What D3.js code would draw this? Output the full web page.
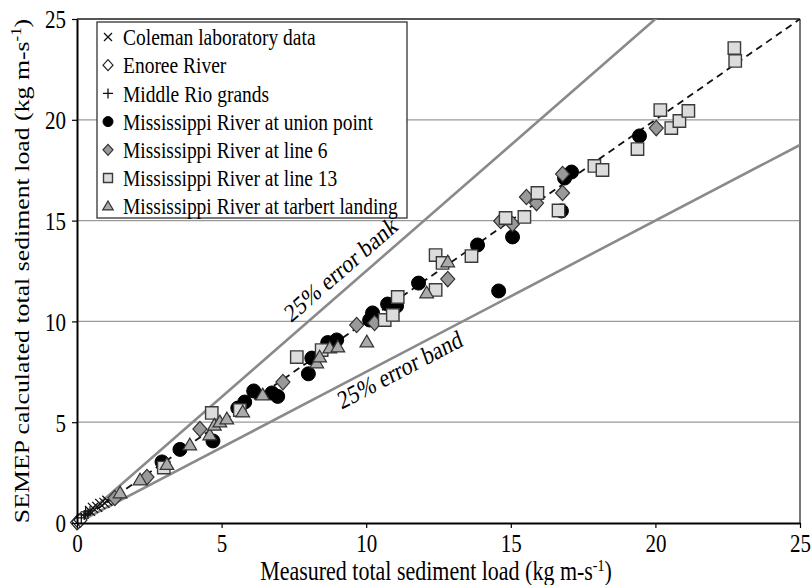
<!DOCTYPE html>
<html><head><meta charset="utf-8">
<script src="https://cdn.jsdelivr.net/npm/d3@7"></script>
<style>
body{margin:0;background:#fff}
svg{display:block}
text{font-family:"Liberation Serif","Times New Roman",serif;fill:#000}
</style>
</head><body>
<svg id="chart" width="812" height="585"></svg>
<script>
// ---------- data ----------
const tickValues = [0, 5, 10, 15, 20, 25];
const seriesNames = [
  "Coleman laboratory data",
  "Enoree River",
  "Middle Rio grands",
  "Mississippi River at union point",
  "Mississippi River at line 6",
  "Mississippi River at line 13",
  "Mississippi River at tarbert landing"
];
const colemanData = [[0.45,0.6],[0.55,0.75],[0.7,0.8],[0.8,0.95],[0.95,1.0],[1.05,1.1]];
const enoreeData = [[0.0,0.02],[0.05,0.08],[0.12,0.15]];
const rioData = [[0.15,0.25],[0.25,0.4],[0.3,0.55],[0.38,0.45],[0.45,0.6]];
const unionData = [[2.94,3.03],[3.56,3.65],[4.70,4.07],[5.56,5.70],[5.80,6.00],[6.11,6.55],[6.74,6.45],[6.94,6.28],
  [8.0,7.4],[8.12,8.18],[8.67,8.95],[8.98,9.08],[10.12,10.07],[10.22,10.42],[10.74,10.86],[11.05,10.76],
  [11.81,11.90],[13.85,13.79],[14.58,11.51],[15.06,14.19],[16.75,15.48],[16.86,17.11],[17.10,17.41],[19.45,19.20]];
const line6Data = [[1.31,1.24],[2.42,2.28],[4.25,4.66],[7.12,6.99],[9.67,9.82],[10.29,9.92],[12.82,12.10],
  [14.65,14.98],[15.06,14.83],[15.54,16.17],[15.89,15.87],[16.79,17.31],[16.79,16.37],[20.03,19.59]];
const line13Data = [[3.0,2.75],[4.66,5.46],[5.63,5.6],[7.60,8.23],[8.46,8.58],[10.64,10.07],[10.92,10.32],[11.09,11.21],
  [12.40,13.29],[12.64,12.90],[12.40,11.56],[13.64,13.24],[14.82,15.13],[15.47,15.18],[15.92,16.37],[16.65,15.5],
  [17.89,17.71],[18.17,17.51],[19.38,18.55],[20.17,20.48],[20.55,19.59],[20.83,19.94],[21.14,20.44],[22.73,23.56],[22.76,22.92]];
const tarbertData = [[1.49,1.49],[2.18,2.13],[3.11,2.9],[3.90,3.87],[4.59,4.37],[4.75,4.85],[4.94,5.01],[5.18,5.16],
  [5.73,5.51],[6.42,6.35],[8.29,7.94],[8.39,8.23],[8.74,8.68],[9.02,8.73],[10.02,8.98],[12.09,11.41],[12.82,12.95]];
const errorFactors = [1.25, 0.75];
const annotationTexts = ["25% error bank", "25% error band"];

// ---------- setup ----------
const svg = d3.select("#chart");
const SY = 1.2; // vertical stretch of text in reference
const x = d3.scaleLinear().domain([0, 25]).range([77, 800]);
const y = d3.scaleLinear().domain([0, 25]).range([523, 19]);

// gridlines
svg.append("g").selectAll("line").data([5,10,15,20]).join("line")
  .attr("x1", x(0)).attr("x2", x(25)).attr("y1", d => y(d)).attr("y2", d => y(d))
  .attr("stroke", "#9a9a9a").attr("stroke-width", 1.3);

// frame top/right
svg.append("line").attr("x1", x(0)).attr("x2", x(25)).attr("y1", y(25)).attr("y2", y(25))
  .attr("stroke", "#555").attr("stroke-width", 2);
svg.append("line").attr("x1", x(25)).attr("x2", x(25)).attr("y1", y(25)).attr("y2", y(0))
  .attr("stroke", "#777").attr("stroke-width", 2);

// clip
svg.append("clipPath").attr("id", "clip").append("rect")
  .attr("x", x(0)).attr("y", y(25)).attr("width", x(25) - x(0)).attr("height", y(0) - y(25));
const plot = svg.append("g").attr("clip-path", "url(#clip)");

// error band lines
const lineGen = d3.line().x(d => x(d[0])).y(d => y(d[1]));
errorFactors.forEach(k => {
  plot.append("path").datum([[0,0],[25,25*k]]).attr("d", lineGen)
    .attr("fill", "none").attr("stroke", "#8a8a8a").attr("stroke-width", 2.6);
});
// 1:1 dashed
plot.append("path").datum([[0,0],[25,25]]).attr("d", lineGen)
  .attr("fill", "none").attr("stroke", "#111").attr("stroke-width", 1.8).attr("stroke-dasharray", "7,5");

// annotations
function slopeAngle(k) {
  const s = (y(0) - y(k)) / (x(1) - x(0));
  return Math.atan(s / SY) * 180 / Math.PI;
}
[[1.25, 9.45, -9, 0], [0.75, 11.0, 19, 1]].forEach(([k, xv, off, i]) => {
  svg.append("text")
    .attr("transform", `translate(${x(xv)},${y(k * xv)}) scale(1,${SY}) rotate(${-slopeAngle(k)})`)
    .attr("y", off).attr("text-anchor", "middle").attr("font-size", 21.5)
    .text(annotationTexts[i]);
});

// marker shapes
function markerPath(type, s) {
  switch (type) {
    case "circle": return d3.symbol(d3.symbolCircle, Math.PI * s * s)();
    case "square": return `M${-s},${-s}H${s}V${s}H${-s}Z`;
    case "diamond": return `M0,${-s*1.1}L${s},0L0,${s*1.1}L${-s},0Z`;
    case "triangle": return `M0,${-s*1.05}L${s*1.05},${s*0.75}L${-s*1.05},${s*0.75}Z`;
    case "x": return `M${-s},${-s}L${s},${s}M${-s},${s}L${s},${-s}`;
    case "plus": return `M${-s},0H${s}M0,${-s}V${s}`;
  }
}
const styles = [
  {type: "x", fill: "none", stroke: "#111", sw: 1.3, size: 5, lsize: 4},
  {type: "diamond", fill: "#fff", stroke: "#222", sw: 1.2, size: 6.5, lsize: 5},
  {type: "plus", fill: "none", stroke: "#111", sw: 1.3, size: 5, lsize: 5},
  {type: "circle", fill: "#000", stroke: "#000", sw: 1, size: 7, lsize: 5},
  {type: "diamond", fill: "#999", stroke: "#333", sw: 1.2, size: 7, lsize: 5},
  {type: "square", fill: "#dcdcdc", stroke: "#3a3a3a", sw: 1.4, size: 6.2, lsize: 4.5},
  {type: "triangle", fill: "#aaa", stroke: "#333", sw: 1.2, size: 6.5, lsize: 5}
];
const allData = [colemanData, enoreeData, rioData, unionData, line6Data, line13Data, tarbertData];

allData.forEach((data, i) => {
  const st = styles[i];
  svg.append("g").selectAll("path").data(data).join("path")
    .attr("transform", d => `translate(${x(d[0])},${y(d[1])})`)
    .attr("d", markerPath(st.type, st.size))
    .attr("fill", st.fill).attr("stroke", st.stroke).attr("stroke-width", st.sw);
});

// axes
const xAxis = svg.append("g").attr("transform", `translate(0,${y(0)})`)
  .call(d3.axisBottom(x).tickValues(tickValues).tickSizeInner(5).tickSizeOuter(0).tickFormat(d3.format("d")));
const yAxis = svg.append("g").attr("transform", `translate(${x(0)},0)`)
  .call(d3.axisLeft(y).tickValues(tickValues).tickSizeInner(5).tickSizeOuter(0).tickFormat(d3.format("d")));
[xAxis, yAxis].forEach(a => {
  a.select(".domain").attr("stroke", "#000").attr("stroke-width", 2);
  a.selectAll(".tick line").attr("stroke", "#000").attr("stroke-width", 1.2);
  a.selectAll("text").attr("font-family", null).attr("font-size", 21).attr("fill", "#000");
});
xAxis.selectAll(".tick text").attr("y", null).attr("dy", "0.35em")
  .attr("transform", `translate(0,20) scale(1,${SY})`);
yAxis.selectAll(".tick text").attr("x", null).attr("dy", "0.35em")
  .attr("transform", `translate(-11,0) scale(1,${SY})`);

// axis titles
function unitTitle(sel, label) {
  sel.append("tspan").text(label + " (kg m-s");
  sel.append("tspan").attr("font-size", 14).attr("dy", -8).text("-1");
  sel.append("tspan").attr("dy", 8).text(")");
}
svg.append("text").attr("transform", `translate(436,571) scale(1,${SY})`)
  .attr("text-anchor", "middle").attr("dy", "0.35em").attr("font-size", 22)
  .call(unitTitle, "Measured total sediment load");
svg.append("text").attr("transform", `translate(21,${(y(0)+y(25))/2}) scale(1,${SY}) rotate(-90)`)
  .attr("text-anchor", "middle").attr("dy", "0.35em").attr("font-size", 21.5)
  .call(unitTitle, "SEMEP calculated total sediment load");

// legend
const lg = svg.append("g");
lg.append("rect").attr("x", 97).attr("y", 22).attr("width", 310).attr("height", 196)
  .attr("fill", "#fff").attr("stroke", "#333").attr("stroke-width", 1.3);
seriesNames.forEach((name, i) => {
  const yc = 37 + i * 28.2;
  const st = styles[i];
  lg.append("path").attr("transform", `translate(108,${yc})`)
    .attr("d", markerPath(st.type, st.lsize))
    .attr("fill", st.fill).attr("stroke", st.stroke).attr("stroke-width", st.sw);
  lg.append("text").attr("transform", `translate(123,${yc}) scale(1,${SY})`)
    .attr("dy", "0.35em").attr("font-size", 19.5).text(name);
});
</script>
</body></html>
